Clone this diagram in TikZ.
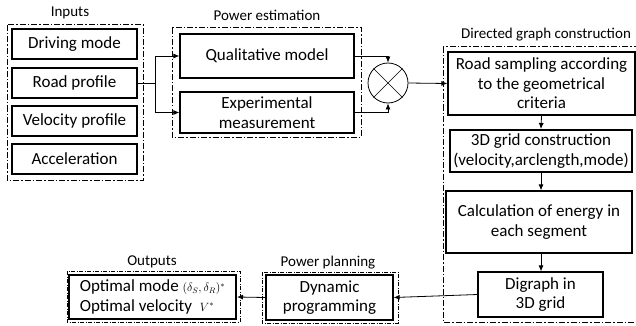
\documentclass[tikz,border=0pt]{standalone}
\usepackage{amsmath}
\usepackage{fontspec}
\setmainfont{Carlito}
\usepackage{tikz}
\usetikzlibrary{arrows.meta}

\begin{document}
\begin{tikzpicture}[x=1pt,y=-1pt,
            box/.style={draw,line width=1.2pt,inner sep=1pt,align=center,
                font=\fontsize{17}{19.5}\selectfont},
            heavybox/.style={box,line width=2pt},
            group/.style={draw,line width=1pt,dash pattern=on 6pt off 2pt on 1.5pt off 2pt},
            title/.style={font=\fontsize{15}{17}\selectfont,inner sep=0pt},
            conn/.style={line width=0.8pt,-{Latex[length=6pt,width=5pt]}}]
            \useasboundingbox (0,0) rectangle (636,326);

            % inputs
            \node[title] (tin) at (70,13) {Inputs};
            \draw[group] (7,25) rectangle (143,180);
            \node[box,minimum width=125pt,minimum height=30pt] (drive) at (74.5,44) {Driving mode};
            \node[box,minimum width=125pt,minimum height=30pt] (road) at (74.5,83) {Road profile};
            \node[box,minimum width=125pt,minimum height=30pt] (velo) at (74.5,121) {Velocity profile};
            \node[box,minimum width=125pt,minimum height=30pt] (acc) at (74.5,159) {Acceleration};

            % power estimation
            \node[title] (tpe) at (267,15) {Power estimation};
            \draw[group] (172,28) rectangle (361,137);
            \node[box,minimum width=174pt,minimum height=44pt] (qual) at (267,56) {Qualitative model};
            \node[box,minimum width=174pt,minimum height=41pt] (expe) at (267,112.5) {Experimental\\measurement};
            \node[draw,circle,line width=0.8pt,minimum size=40pt,inner sep=0pt] (mix) at (388,83) {};
            \draw[line width=0.6pt] (mix.north west) -- (mix.south east) (mix.north east) -- (mix.south west);

            % directed graph construction
            \node[title] (tdg) at (546,35) {Directed graph construction};
            \draw[group] (443,47) rectangle (640,322);
            \node[box,minimum width=187pt,minimum height=63pt] (samp) at (541.5,83.5) {Road sampling according\\to the geometrical\\criteria};
            \node[heavybox,minimum width=182pt,minimum height=42pt] (grid) at (541,151) {3D grid construction\\(velocity,arclength,mode)};
            \node[box,minimum width=186pt,minimum height=62pt] (calc) at (539,222) {Calculation of energy in\\each segment};
            \node[box,minimum width=125pt,minimum height=45pt] (digr) at (540.5,294.5) {Digraph in\\3D grid};

            % power planning
            \node[title] (tpp) at (328,263) {Power planning};
            \draw[group,line width=0.8pt,dash pattern=on 4pt off 1.5pt on 1pt off 1.5pt] (262,272) rectangle (398,323);
            \node[box,minimum width=127pt,minimum height=45pt] (dyn) at (329.5,297.5) {Dynamic\\programming};

            % outputs
            \node[title] (tout) at (152,262) {Outputs};
            \draw[group,line width=0.8pt,dash pattern=on 4pt off 1.5pt on 1pt off 1.5pt] (67,271) rectangle (240,322);
            \node[heavybox,minimum width=167pt,minimum height=44pt,align=left] (outp) at (152.5,297)
                {Optimal mode {\fontsize{12}{14}\selectfont$(\delta_S,\delta_R)^*$}\\Optimal velocity\ \ {\fontsize{12}{14}\selectfont$V^*$}};

            \coordinate (fork) at (155,83);
            \draw[line width=0.8pt] (road.east) -- (fork);
            \draw[conn] (fork) |- (qual.west);
            \draw[conn] (fork) |- (expe.west);
            \draw[conn] (qual.east) -| (mix.north);
            \draw[conn] (expe.east) -| (mix.south);
            \draw[conn] (mix.east) -- (samp.west);
            \draw[conn] (samp.south) -- (grid.north);
            \draw[conn] (grid.south) -- (calc.north-|grid.south);
            \draw[conn] (calc.south-|grid.south) -- (digr.north-|grid.south);
            \draw[conn] (digr.west) -- (dyn.east);
            \draw[conn] (dyn.west) -- (outp.east);
        \end{tikzpicture}
\end{document}
